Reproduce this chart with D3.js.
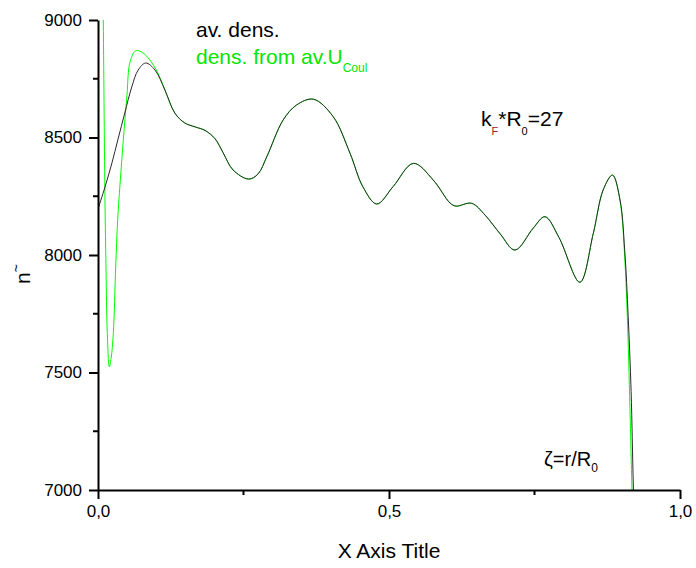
<!DOCTYPE html>
<html>
<head>
<meta charset="utf-8">
<script src="https://cdn.jsdelivr.net/npm/d3@7"></script>
<style>
  body { margin: 0; background: #fff; }
  svg { display: block; font-family: "Liberation Sans", Arial, sans-serif; }
</style>
</head>
<body>
<svg id="chart" width="696" height="568"></svg>
<script>
// av. dens. (black)
const avX = [0, 0.012, 0.024, 0.034, 0.046, 0.058, 0.069, 0.082, 0.098, 0.115, 0.132, 0.149, 0.167, 0.184,
  0.201, 0.215, 0.232, 0.259, 0.275, 0.29, 0.318, 0.341, 0.37, 0.404, 0.433, 0.455, 0.479, 0.507, 0.542,
  0.576, 0.605, 0.615, 0.642, 0.665, 0.691, 0.7165, 0.748, 0.768, 0.792, 0.828, 0.851, 0.868, 0.884,
  0.897, 0.905, 0.911, 0.916, 0.92, 0.93];
const avDens = [8196, 8289, 8392, 8489, 8604, 8715, 8787, 8817, 8787, 8702, 8604, 8562, 8545, 8530,
  8495, 8435, 8362, 8323, 8345, 8418, 8574, 8638, 8663, 8589, 8433, 8291, 8217, 8291, 8390,
  8319, 8221, 8208, 8220, 8170, 8090, 8021, 8115, 8163, 8075, 7884, 8092, 8277, 8340,
  8234, 8021, 7737, 7420, 7000, 6200];

// dens. from av.U_Coul (green)
const coulX = [0, 0.003, 0.006, 0.0091, 0.012, 0.0137, 0.016, 0.0194, 0.0225, 0.0263, 0.0304, 0.0338,
  0.0378, 0.0435, 0.0498, 0.055, 0.0648, 0.0773, 0.089, 0.103, 0.115, 0.132, 0.149, 0.167, 0.184,
  0.201, 0.215, 0.232, 0.259, 0.275, 0.29, 0.318, 0.341, 0.37, 0.404, 0.433, 0.455, 0.479, 0.507, 0.542,
  0.576, 0.605, 0.615, 0.642, 0.665, 0.691, 0.7165, 0.748, 0.768, 0.792, 0.828, 0.851, 0.868, 0.884,
  0.897, 0.905, 0.91, 0.9145, 0.9175, 0.93];
const coulDens = [11400, 10600, 9800, 9000, 8234, 7950, 7666, 7524, 7560, 7666, 7950, 8150,
  8300, 8489, 8681, 8821, 8869, 8860, 8830, 8774, 8702, 8604, 8562, 8545, 8530,
  8495, 8435, 8362, 8323, 8345, 8418, 8574, 8638, 8663, 8589, 8433, 8291, 8217, 8291, 8390,
  8319, 8221, 8208, 8220, 8170, 8090, 8021, 8115, 8163, 8075, 7884, 8092, 8277, 8340,
  8230, 7990, 7700, 7300, 7000, 5900];

const xTicks = [0, 0.5, 1];
const xMinor = [0.25, 0.75];
const yTicks = [7000, 7500, 8000, 8500, 9000];
const yMinor = [7250, 7750, 8250, 8750];

const svg = d3.select('#chart');
const margin = { left: 98, right: 16, top: 20, bottom: 78 };
const width = 696, height = 568;

const x = d3.scaleLinear().domain([0, 1]).range([margin.left, width - margin.right]);
const y = d3.scaleLinear().domain([7000, 9000]).range([height - margin.bottom, margin.top]);

svg.append('clipPath').attr('id', 'plot-clip')
  .append('rect')
  .attr('x', x(0)).attr('y', y(9000))
  .attr('width', x(1) - x(0)).attr('height', y(7000) - y(9000));

const line = d3.line().x((d) => x(d[0])).y((d) => y(d[1])).curve(d3.curveCatmullRom.alpha(0.5));

const plot = svg.append('g').attr('clip-path', 'url(#plot-clip)');
plot.append('path')
  .datum(d3.zip(coulX, coulDens))
  .attr('fill', 'none').attr('stroke', '#00ff00').attr('stroke-width', 1)
  .attr('d', line);
plot.append('path')
  .datum(d3.zip(avX, avDens))
  .attr('fill', 'none').attr('stroke', '#2a2a2a').attr('stroke-width', 1)
  .attr('d', line);

// axes
const fmt = (d) => d3.format('.1f')(d).replace('.', ',');

const xAxis = svg.append('g').attr('transform', `translate(0,${y(7000)})`);
xAxis.call(d3.axisBottom(x).tickValues(xTicks).tickSize(9).tickSizeOuter(0).tickPadding(6).tickFormat(fmt));
xMinor.forEach((v) => {
  xAxis.append('line').attr('x1', x(v)).attr('x2', x(v)).attr('y1', 0).attr('y2', 5)
    .attr('stroke', '#000').attr('stroke-width', 2);
});

const yAxis = svg.append('g').attr('transform', `translate(${x(0)},0)`);
yAxis.call(d3.axisLeft(y).tickValues(yTicks).tickSize(9).tickSizeOuter(0).tickPadding(7).tickFormat(d3.format('d')));
yMinor.forEach((v) => {
  yAxis.append('line').attr('x1', 0).attr('x2', -5).attr('y1', y(v)).attr('y2', y(v))
    .attr('stroke', '#000').attr('stroke-width', 2);
});

svg.selectAll('.domain').attr('stroke', '#000').attr('stroke-width', 2);
svg.selectAll('.tick line').attr('stroke', '#000').attr('stroke-width', 2);
svg.selectAll('.tick text').attr('font-size', 17).attr('fill', '#000')
  .attr('font-family', '"Liberation Sans", Arial, sans-serif');

// axis titles
svg.append('text')
  .attr('x', (x(0) + x(1)) / 2).attr('y', 558)
  .attr('text-anchor', 'middle').attr('font-size', 21).text('X Axis Title');

const yTitle = svg.append('text')
  .attr('transform', 'translate(30,284) rotate(-90)')
  .attr('font-size', 21);
yTitle.append('tspan').text('n');
yTitle.append('tspan').attr('font-size', 14).attr('dy', -9).text('~');

// legend
svg.append('text').attr('x', 196).attr('y', 37).attr('font-size', 21).attr('fill', '#000').text('av. dens.');
const leg2 = svg.append('text').attr('x', 196).attr('y', 64).attr('font-size', 21).attr('fill', '#00e600');
leg2.append('tspan').text('dens. from av.U');
leg2.append('tspan').attr('font-size', 12).attr('dy', 8).text('Coul');

// annotations
const kf = svg.append('text').attr('x', 481).attr('y', 126).attr('font-size', 21).attr('fill', '#000');
kf.append('tspan').text('k');
kf.append('tspan').attr('font-size', 11).attr('dy', 9).attr('fill', '#a02020').text('F');
kf.append('tspan').attr('dy', -9).text('*R');
kf.append('tspan').attr('font-size', 11).attr('dy', 9).text('0');
kf.append('tspan').attr('dy', -9).text('=27');

const zeta = svg.append('text').attr('x', 544).attr('y', 466).attr('font-size', 20).attr('fill', '#000');
zeta.append('tspan').text('ζ=r/R');
zeta.append('tspan').attr('font-size', 12).attr('dy', 6).text('0');
</script>
</body>
</html>
